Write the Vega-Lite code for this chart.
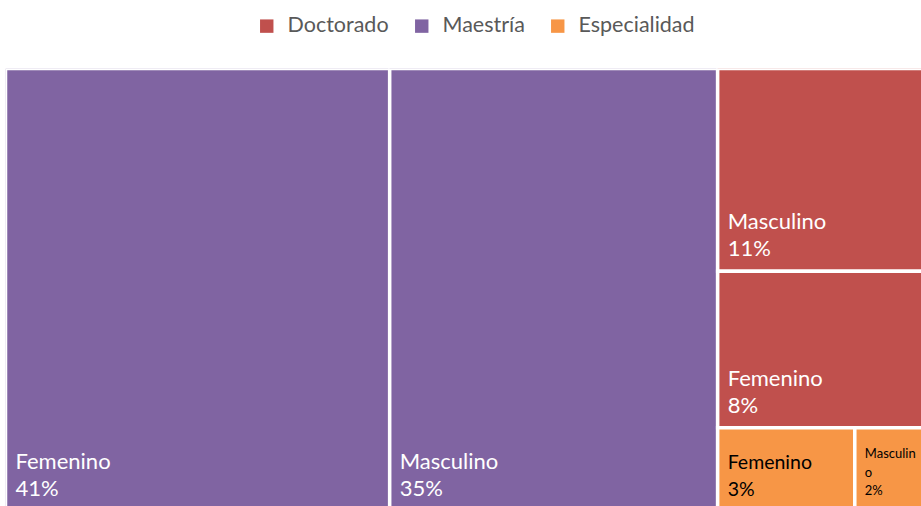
{
  "$schema": "https://vega.github.io/schema/vega-lite/v6.json",
  "width": 915.5,
  "height": 437.5,
  "autosize": {"type": "none"},
  "padding": {"left": 5.5, "top": 68.5, "right": 0, "bottom": 0},
  "background": "white",
  "config": {"view": {"stroke": null}, "font": "Lato"},
  "data": {
    "values": [
      {"nivel": "Maestría", "sexo": "Femenino", "pct": 41},
      {"nivel": "Maestría", "sexo": "Masculino", "pct": 35},
      {"nivel": "Doctorado", "sexo": "Masculino", "pct": 11.0},
      {"nivel": "Doctorado", "sexo": "Femenino", "pct": 8.49},
      {"nivel": "Especialidad", "sexo": "Femenino", "pct": 2.75},
      {"nivel": "Especialidad", "sexo": "Masculino", "pct": 1.76}
    ]
  },
  "transform": [
    {"joinaggregate": [{"op": "sum", "field": "pct", "as": "total"}]},
    {"joinaggregate": [{"op": "sum", "field": "pct", "as": "gtot"}], "groupby": ["nivel"]},
    {"window": [{"op": "sum", "field": "pct", "as": "gcum"}], "groupby": ["nivel"], "sort": [{"field": "pct", "order": "descending"}], "frame": [null, 0]},
    {"calculate": "datum.nivel === 'Maestría' ? datum.pct : 0", "as": "m"},
    {"calculate": "datum.nivel === 'Doctorado' ? datum.pct : 0", "as": "d"},
    {"joinaggregate": [{"op": "sum", "field": "m", "as": "mt"}, {"op": "sum", "field": "d", "as": "dt"}]},
    {"calculate": "datum.nivel === 'Maestría' ? datum.gcum - datum.pct : datum.nivel === 'Doctorado' ? datum.mt : datum.mt + (datum.gcum - datum.pct) / datum.gtot * (datum.total - datum.mt)", "as": "x0"},
    {"calculate": "datum.nivel === 'Maestría' ? datum.gcum : datum.nivel === 'Doctorado' ? datum.total : datum.mt + datum.gcum / datum.gtot * (datum.total - datum.mt)", "as": "x1"},
    {"calculate": "datum.nivel === 'Maestría' ? 0 : datum.nivel === 'Doctorado' ? (datum.gcum - datum.pct) / (datum.total - datum.mt) : datum.dt / (datum.total - datum.mt)", "as": "y0"},
    {"calculate": "datum.nivel === 'Maestría' ? 1 : datum.nivel === 'Doctorado' ? datum.gcum / (datum.total - datum.mt) : 1", "as": "y1"},
    {"calculate": "datum.pct < 2.5 ? [substring(datum.sexo, 0, 8), substring(datum.sexo, 8), format(datum.pct / 100, '.0%')] : [datum.sexo, format(datum.pct / 100, '.0%')]", "as": "label"}
  ],
  "layer": [
    {
      "mark": {"type": "rect", "stroke": "white", "strokeWidth": 3.5, "clip": true},
      "encoding": {
        "x": {"field": "x0", "type": "quantitative", "scale": {"domain": [0, 97.7], "nice": false, "zero": false}, "axis": null},
        "x2": {"field": "x1"},
        "y": {"field": "y0", "type": "quantitative", "scale": {"domain": [0, 0.9887], "reverse": true, "nice": false, "zero": false}, "axis": null},
        "y2": {"field": "y1"},
        "color": {
          "field": "nivel",
          "type": "nominal",
          "scale": {"domain": ["Doctorado", "Maestría", "Especialidad"], "range": ["#C0504D", "#8064A2", "#F79646"]},
          "legend": {
            "orient": "none",
            "legendX": 250.5,
            "legendY": -53.5,
            "direction": "horizontal",
            "title": null,
            "symbolType": "square",
            "symbolSize": 180,
            "symbolStrokeWidth": 0,
            "symbolOpacity": 1,
            "labelFont": "Lato",
            "labelFontSize": 21.5,
            "labelColor": "#595959",
            "labelOffset": 10,
            "columnPadding": 22,
            "padding": 0
          }
        }
      }
    },
    {
      "transform": [{"filter": "datum.pct >= 2.5"}],
      "mark": {"type": "text", "align": "left", "baseline": "alphabetic", "dx": 10, "dy": -42, "lineHeight": 27, "font": "Lato"},
      "encoding": {
        "x": {"field": "x0", "type": "quantitative", "scale": {"domain": [0, 97.7], "nice": false, "zero": false}, "axis": null},
        "y": {"field": "y1", "type": "quantitative", "scale": {"domain": [0, 0.9887], "reverse": true, "nice": false, "zero": false}, "axis": null},
        "text": {"field": "label", "type": "nominal"},
        "color": {"condition": {"test": "datum.nivel === 'Especialidad'", "value": "#000000"}, "value": "#FFFFFF"},
        "size": {"condition": {"test": "datum.nivel === 'Especialidad'", "value": 19.5}, "value": 22}
      }
    },
    {
      "transform": [{"filter": "datum.pct < 2.5"}],
      "mark": {"type": "text", "align": "left", "baseline": "alphabetic", "dx": 10, "dy": -53, "lineHeight": 18.5, "fontSize": 13, "font": "Lato", "color": "#000000"},
      "encoding": {
        "x": {"field": "x0", "type": "quantitative", "scale": {"domain": [0, 97.7], "nice": false, "zero": false}, "axis": null},
        "y": {"field": "y1", "type": "quantitative", "scale": {"domain": [0, 0.9887], "reverse": true, "nice": false, "zero": false}, "axis": null},
        "text": {"field": "label", "type": "nominal"}
      }
    }
  ]
}
